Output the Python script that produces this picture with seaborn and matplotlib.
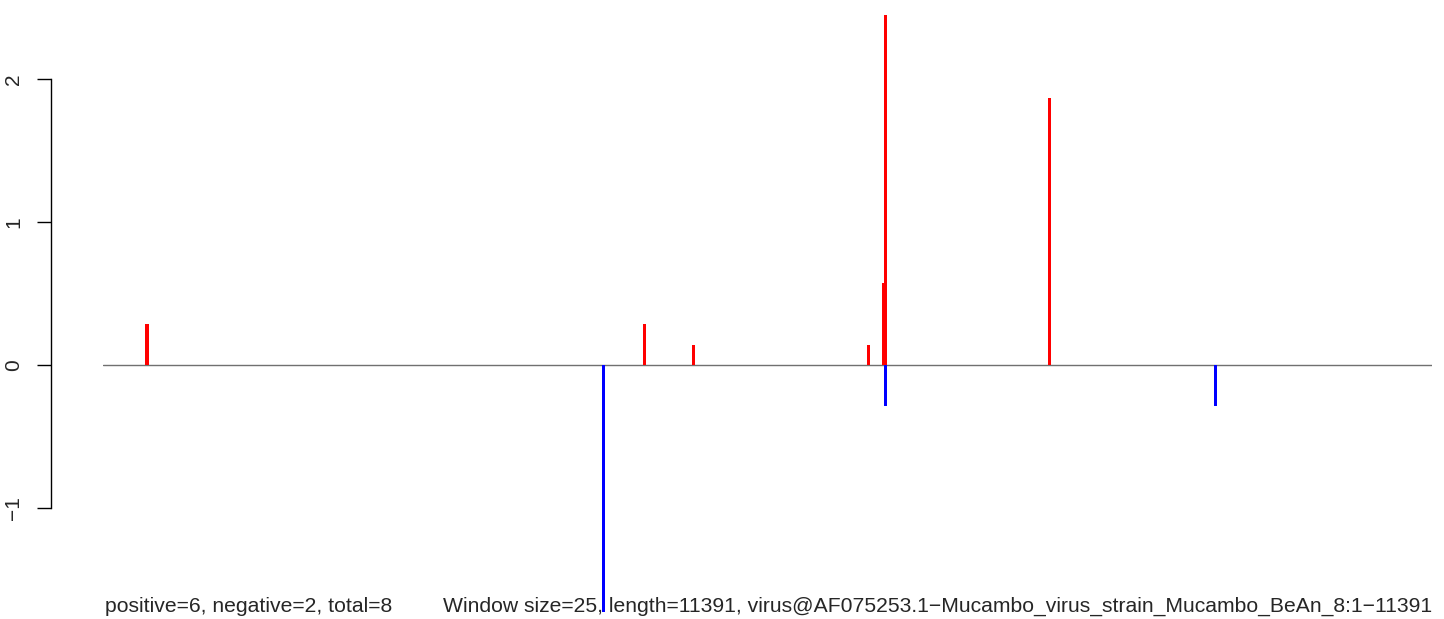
import matplotlib
matplotlib.use("Agg")
import matplotlib.pyplot as plt
import seaborn as sns
import numpy as np

# window start positions and scores
pos_positions = [377, 4641, 5061, 6561, 6690, 6707, 8112]
pos_values = [0.286, 0.286, 0.14, 0.14, 0.57, 2.45, 1.87]
neg_positions = [4290, 6707, 9535]
neg_values = [-1.73, -0.29, -0.29]
yticks = [-1, 0, 1, 2]
seq_length = 11391
window = 25
left_text = "positive=6, negative=2, total=8"
right_text = "Window size=25, length=11391, virus@AF075253.1\u2212Mucambo_virus_strain_Mucambo_BeAn_8:1\u221211391"

sns.set_style("white")
plt.rcParams['font.family'] = ['Liberation Sans', 'DejaVu Sans']

W, H = 1444, 619
PT = 0.72  # points per pixel at dpi 100
fig = plt.figure(figsize=(W / 100, H / 100), dpi=100)
ax_left, ax_right = 103 / W, 1432 / W
top_px, bot_px = 5, 612
ax = fig.add_axes([ax_left, 1 - bot_px / H, ax_right - ax_left, (bot_px - top_px) / H])

ax.set_xlim(0, seq_length)
ax.set_ylim((365 - bot_px) / 143, (365 - top_px) / 143)

ax.axhline(0, color="#707070", lw=1.0, zorder=1)
ax.bar(pos_positions, pos_values, width=window * 1.1, color="#ff0000", linewidth=0, zorder=2)
ax.bar(neg_positions, neg_values, width=window * 1.1, color="#0000ff", linewidth=0, zorder=2)

for s in ["top", "right", "bottom"]:
    ax.spines[s].set_visible(False)
ax.spines["left"].set_position(("outward", 52 * PT))
ax.spines["left"].set_bounds(-1, 2)
ax.spines["left"].set_color("black")
ax.spines["left"].set_linewidth(1.0)
ax.set_xticks([])
ax.set_yticks(yticks)
ax.set_yticklabels([str(t).replace("-", "\u2212") for t in yticks], rotation=90, va="center", fontsize=15)
ax.tick_params(axis="y", direction="out", length=14 * PT, width=1.0, color="black", pad=14 * PT, left=True)
ax.patch.set_alpha(0)

fig.text(ax_left + 2 / W, 1 - 606 / H, left_text, ha="left", va="center", fontsize=15.2)
fig.text(ax_right, 1 - 606 / H, right_text, ha="right", va="center", fontsize=15.2)

fig.savefig("out.png", dpi=100)
